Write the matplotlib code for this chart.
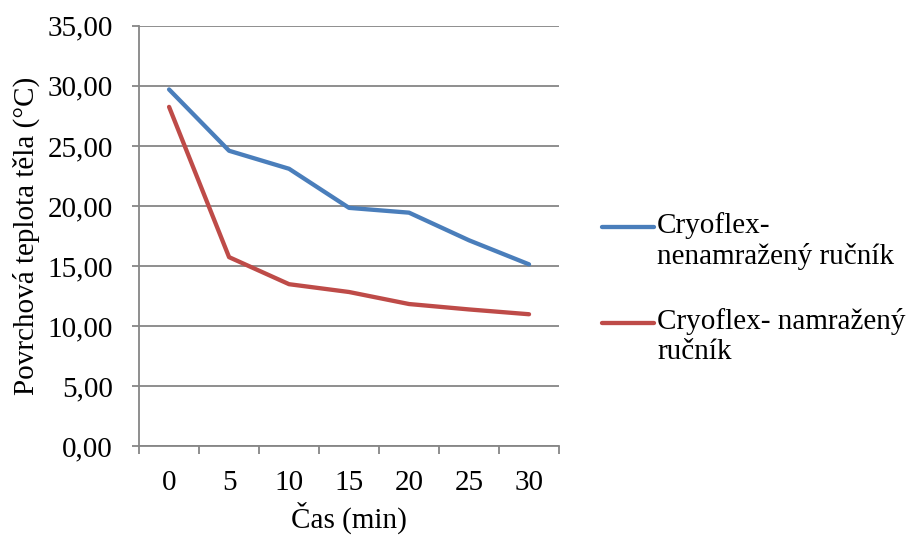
import matplotlib.pyplot as plt
from matplotlib.lines import Line2D
from matplotlib.ticker import FuncFormatter, FixedLocator

plt.rcParams['font.family'] = ['Liberation Serif', 'DejaVu Serif']

cas = [0, 5, 10, 15, 20, 25, 30]
nenamrazeny = [29.7, 24.6, 23.1, 19.85, 19.45, 17.15, 15.15]
namrazeny = [28.25, 15.75, 13.5, 12.85, 11.85, 11.4, 11.0]
labels = ["Cryoflex-\nnenamražený ručník", "Cryoflex- namražený\nručník"]
colors = ['#4A7EBB', '#BE4B48']
fs = 21

fig = plt.figure(figsize=(9.09, 5.36), dpi=100)
ax = fig.add_axes([0.153, 0.167, 0.462, 0.785])

x = list(range(len(cas)))
ax.plot(x, nenamrazeny, color=colors[0], lw=3.1, solid_capstyle='round', solid_joinstyle='round')
ax.plot(x, namrazeny, color=colors[1], lw=3.1, solid_capstyle='round', solid_joinstyle='round')

ax.set_xlim(-0.5, len(cas) - 0.5)
ax.set_ylim(0, 35)
ax.set_yticks(range(0, 36, 5))
ax.yaxis.set_major_formatter(FuncFormatter(lambda v, p: f"{v:.2f}".replace('.', ',')))
ax.set_xticks(x)
ax.set_xticklabels([str(c) for c in cas])
ax.xaxis.set_minor_locator(FixedLocator([i - 0.5 for i in range(len(cas) + 1)]))

ax.grid(axis='y', color='#868686', lw=1.3)
ax.set_axisbelow(True)
for s in ['top', 'right']:
    ax.spines[s].set_visible(False)
for s in ['left', 'bottom']:
    ax.spines[s].set_color('#868686')
    ax.spines[s].set_linewidth(1.3)

ax.tick_params(axis='y', length=5, width=1.3, color='#868686', labelsize=fs, pad=14)
ax.tick_params(axis='x', which='major', length=0, labelsize=fs, pad=17)
ax.tick_params(axis='x', which='minor', length=6, width=1.3, color='#868686')

ax.set_ylabel("Povrchová teplota těla (°C)", fontsize=fs, labelpad=5)
ax.set_xlabel("Čas (min)", fontsize=fs, labelpad=4)

# legend drawn by hand so the line sits at the first text line
W, H = 909, 536
for i, (lab, c) in enumerate(zip(labels, colors)):
    ly = 227 + i * 96
    fig.add_artist(Line2D([602 / W, 654 / W], [1 - ly / H, 1 - ly / H],
                          color=c, lw=3.1, solid_capstyle='round'))
    fig.text(657 / W, 1 - (ly - 15) / H, lab, fontsize=fs, va='top', ha='left',
             linespacing=1.2)

fig.savefig('out.png', dpi=100)
